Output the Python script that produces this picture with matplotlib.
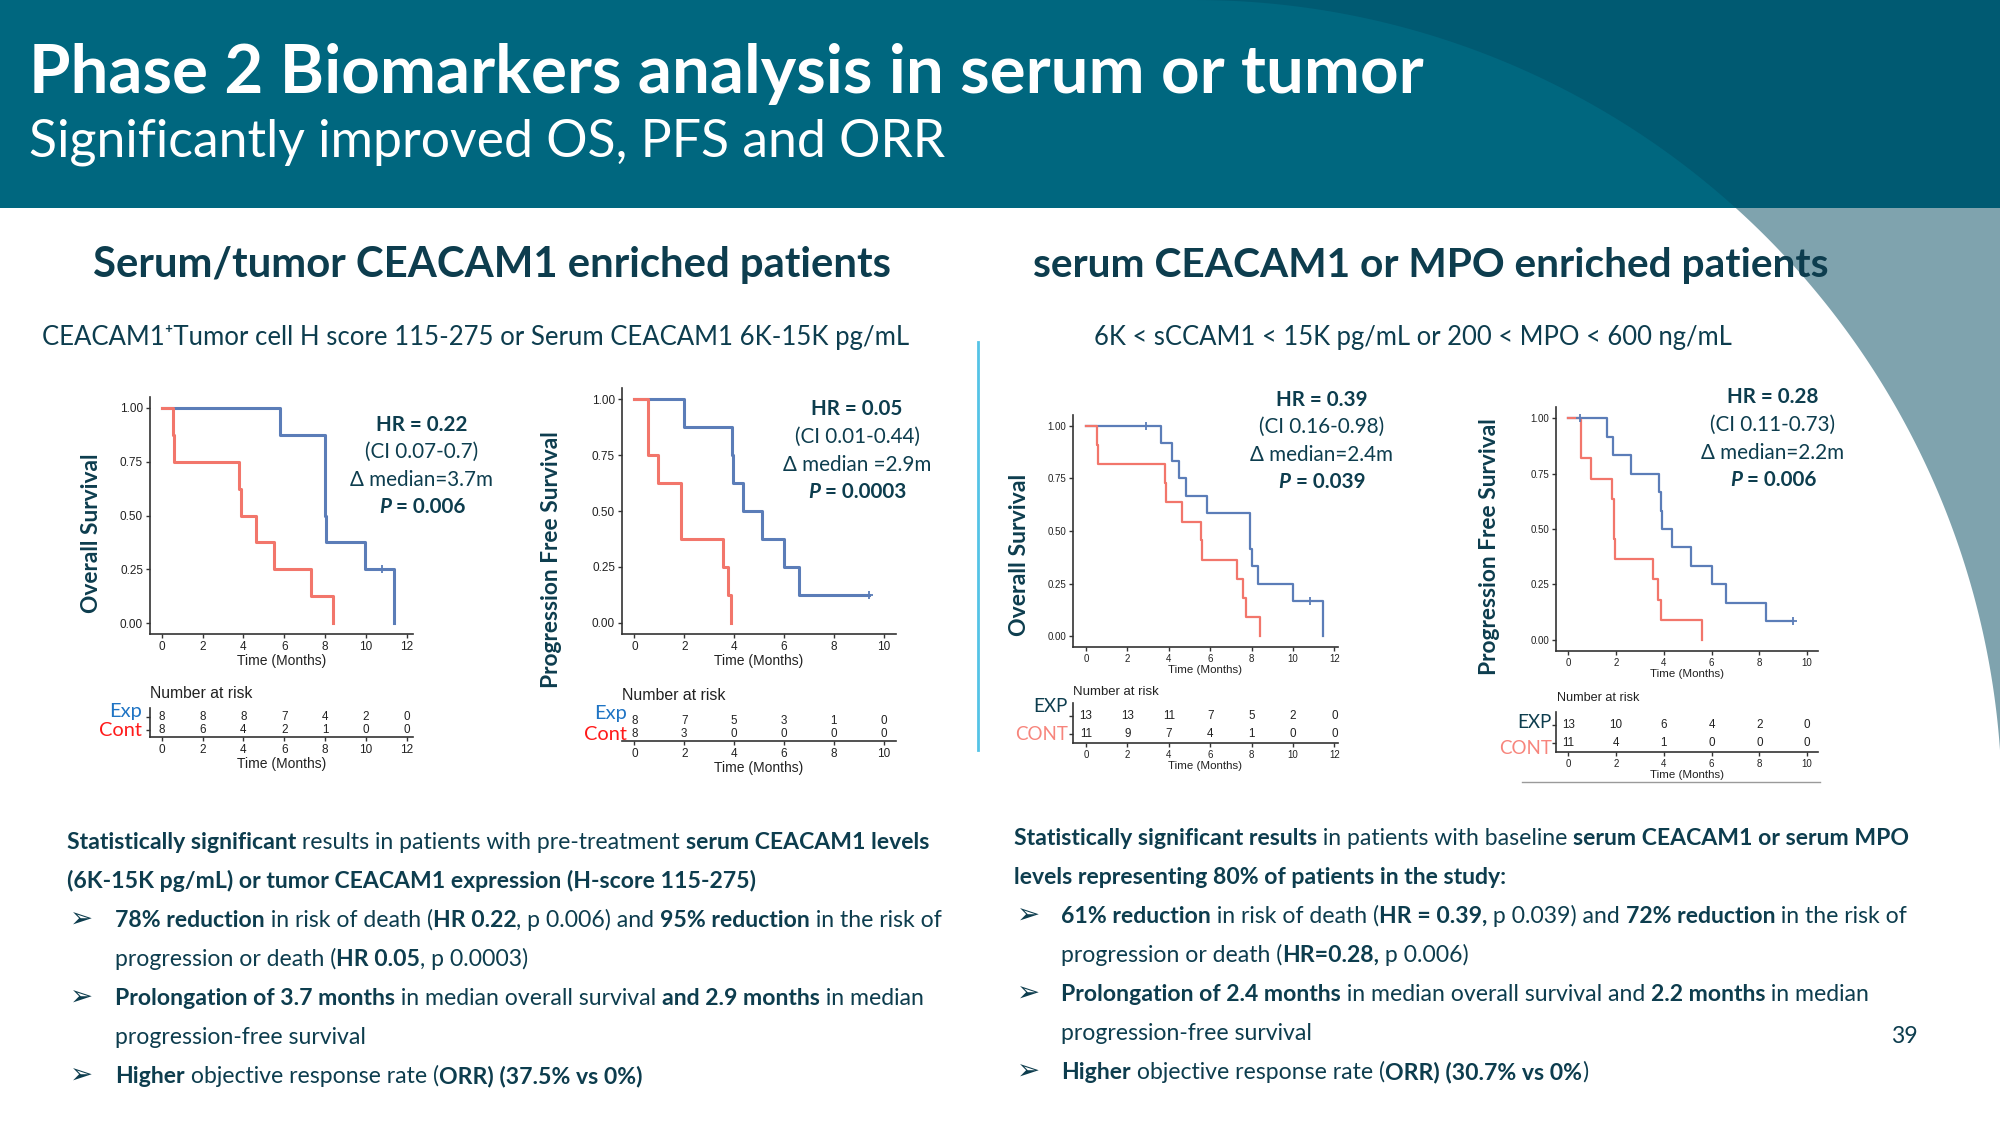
import numpy as np
import matplotlib.pyplot as plt
from matplotlib.patches import Rectangle, Polygon

# ── Kaplan-Meier curves (time in months, survival) ──────────────────────────
os1_exp_t = [0, 5.8, 7.97, 8.03, 9.96, 11.38]
os1_exp_s = [1.0, 0.875, 0.5, 0.375, 0.25, 0.0]
os1_cont_t = [0, 0.54, 0.6, 3.79, 3.87, 4.62, 5.52, 7.3, 8.4]
os1_cont_s = [1.0, 0.875, 0.75, 0.625, 0.5, 0.375, 0.25, 0.125, 0.0]
os1_cens = [10.78]

pfs1_exp_t = [0, 1.97, 3.92, 3.95, 4.34, 5.14, 6.02, 6.59, 9.4]
pfs1_exp_s = [1.0, 0.875, 0.75, 0.625, 0.5, 0.375, 0.25, 0.125, 0.125]
pfs1_cont_t = [0, 0.54, 0.56, 0.94, 1.85, 1.88, 3.57, 3.75, 3.88]
pfs1_cont_s = [1.0, 0.875, 0.75, 0.625, 0.5, 0.375, 0.25, 0.125, 0.0]
pfs1_cens = [9.4]

os2_exp_t = [0, 3.6, 4.15, 4.47, 4.83, 5.85, 7.95, 8.04, 8.33, 10.02, 11.44]
os2_exp_s = [1.0, 0.917, 0.833, 0.75, 0.667, 0.583, 0.417, 0.333, 0.25, 0.167, 0.0]
os2_cont_t = [0, 0.55, 0.58, 3.8, 3.88, 4.63, 5.57, 5.6, 7.3, 7.59, 7.72, 8.41]
os2_cont_s = [1.0, 0.909, 0.818, 0.727, 0.636, 0.545, 0.455, 0.364, 0.273, 0.182, 0.091, 0.0]
os2_cens = [2.91, 10.83]

pfs2_exp_t = [0, 1.62, 1.86, 2.64, 3.8, 3.88, 3.92, 4.33, 5.13, 6.01, 6.59, 8.3, 9.4]
pfs2_exp_s = [1.0, 0.917, 0.833, 0.75, 0.667, 0.583, 0.5, 0.417, 0.333, 0.25, 0.167, 0.083, 0.083]
pfs2_cont_t = [0, 0.52, 0.54, 0.95, 1.84, 1.89, 1.93, 1.96, 3.55, 3.76, 3.88, 5.61]
pfs2_cont_s = [1.0, 0.909, 0.818, 0.727, 0.636, 0.545, 0.455, 0.364, 0.273, 0.182, 0.091, 0.0]
pfs2_cens = [0.49, 9.4]

# ── numbers at risk ───────────────────────────────────────────────────────────
risk_t12 = [0, 2, 4, 6, 8, 10, 12]
risk_t10 = [0, 2, 4, 6, 8, 10]
os1_risk_exp = [8, 8, 8, 7, 4, 2, 0]
os1_risk_cont = [8, 6, 4, 2, 1, 0, 0]
pfs1_risk_exp = [8, 7, 5, 3, 1, 0]
pfs1_risk_cont = [8, 3, 0, 0, 0, 0]
os2_risk_exp = [13, 13, 11, 7, 5, 2, 0]
os2_risk_cont = [11, 9, 7, 4, 1, 0, 0]
pfs2_risk_exp = [13, 10, 6, 4, 2, 0]
pfs2_risk_cont = [11, 4, 1, 0, 0, 0]

# ── stats boxes ───────────────────────────────────────────────────────────────
os1_stats = ['HR = 0.22', '(CI 0.07-0.7)', 'Δ median=3.7m', '0.006']
pfs1_stats = ['HR = 0.05', '(CI 0.01-0.44)', 'Δ median =2.9m', '0.0003']
os2_stats = ['HR = 0.39', '(CI 0.16-0.98)', 'Δ median=2.4m', '0.039']
pfs2_stats = ['HR = 0.28', '(CI 0.11-0.73)', 'Δ median=2.2m', '0.006']

# ── colours / fonts ───────────────────────────────────────────────────────────
TEAL = '#00677F'
TEAL_DK = '#005A72'
GREY = '#7FA3AE'
INK = '#0D3D4E'
BLUE = '#5B7DB8'
RED = '#F2766B'
BODY = ['Lato', 'DejaVu Sans']
RFONT = ['Liberation Sans', 'DejaVu Sans']
STY = {'r': dict(fontweight='normal'), 'b': dict(fontweight='bold'),
       'bi': dict(fontweight='bold', fontstyle='italic')}

W, H = 2000, 1125
fig = plt.figure(figsize=(W / 100, H / 100), dpi=100)
bg = fig.add_axes([0, 0, 1, 1], zorder=0)
bg.set_xlim(0, W)
bg.set_ylim(H, 0)
bg.axis('off')
rend = fig.canvas.get_renderer()


def text_w(s, size, **kw):
    t = bg.text(0, 0, s + '|', fontsize=size, **kw)
    u = bg.text(0, 0, '|', fontsize=size, **kw)
    w = t.get_window_extent(rend).width - u.get_window_extent(rend).width
    t.remove()
    u.remove()
    return w


def fit(s, width, **kw):
    return 20 * width / text_w(s, 20, **kw)


def rich(x, y, parts, size, ha='left', family=BODY, color=INK, va='baseline'):
    ws = [text_w(s, size, family=family, **STY[k]) for s, k in parts]
    x0 = x - sum(ws) / 2 if ha == 'center' else x
    for (s, k), w in zip(parts, ws):
        bg.text(x0, y, s, fontsize=size, family=family, color=color, va=va, **STY[k])
        x0 += w


def px_axes(l, t, r, b):
    return fig.add_axes([l / W, 1 - b / H, (r - l) / W, (b - t) / H])


# ── background: header band and the big arc ──────────────────────────────────
cx, cy, rad = 1195, 807, 807
th_end = -np.arccos((W - cx) / rad)
th = np.linspace(-np.pi / 2, th_end, 300)
arc = np.column_stack([cx + rad * np.cos(th), cy + rad * np.sin(th)])
shape = np.vstack([arc, [[W + 50, arc[-1, 1]], [W + 50, -50], [cx, -50]]])
bg.add_patch(Polygon(shape, closed=True, fc=GREY, ec='none', zorder=0))
hdr = Rectangle((0, 0), W, 208, fc=TEAL, ec='none', zorder=1)
bg.add_patch(hdr)
dark = Polygon(shape, closed=True, fc=TEAL_DK, ec='none', zorder=2)
bg.add_patch(dark)
dark.set_clip_path(hdr)

title = 'Phase 2 Biomarkers analysis in serum or tumor'
bg.text(29, 93, title, color='white', fontweight='bold', family=BODY,
        fontsize=fit(title, 1393, family=BODY, fontweight='bold'), zorder=3)
sub = 'Significantly improved OS, PFS and ORR'
bg.text(29, 157, sub, color='white', fontweight='normal', family=BODY,
        fontsize=fit(sub, 919, family=BODY), zorder=3)

h1 = 'Serum/tumor CEACAM1 enriched patients'
h2 = 'serum CEACAM1 or MPO enriched patients'
bg.text(93, 277, h1, color=INK, fontweight='bold', family=BODY,
        fontsize=fit(h1, 799, family=BODY, fontweight='bold'))
bg.text(1033, 277, h2, color=INK, fontweight='bold', family=BODY,
        fontsize=fit(h2, 797, family=BODY, fontweight='bold'))
c1 = 'CEACAM1⁺Tumor cell H score 115-275 or Serum CEACAM1 6K-15K pg/mL'
c2 = '6K < sCCAM1 < 15K pg/mL or 200 < MPO < 600 ng/mL'
bg.text(42, 345, c1, color=INK, family=BODY, fontsize=fit(c1, 866, family=BODY))
bg.text(1094, 345, c2, color=INK, family=BODY, fontsize=fit(c2, 638, family=BODY))

bg.plot([978, 978], [342, 750], color='#55C3E6', lw=2)
bg.plot([1522, 1820], [782, 782], color='#9A9A9A', lw=1)


# ── KM panels ─────────────────────────────────────────────────────────────────
def style(ax, fs):
    for sp in ['top', 'right']:
        ax.spines[sp].set_visible(False)
    for sp in ['left', 'bottom']:
        ax.spines[sp].set_color('#333333')
        ax.spines[sp].set_linewidth(1.2)
    ax.tick_params(length=3, width=1, color='#333333', labelsize=fs,
                   labelcolor='#222222', pad=2)
    for lab in ax.get_xticklabels() + ax.get_yticklabels():
        lab.set_family(RFONT)


def panel(km_box, tbl_box, xlim, ticks, exp_t, exp_s, cont_t, cont_s, cens,
          r_exp, r_cont, fs, lw, tbl_spine):
    ax = px_axes(*km_box)
    ax.set_facecolor('none')
    ax.step(exp_t, exp_s, where='post', color=BLUE, lw=lw)
    ax.step(cont_t, cont_s, where='post', color=RED, lw=lw)
    idx = np.searchsorted(exp_t, cens, side='right') - 1
    ax.plot(cens, np.asarray(exp_s)[idx], '+', color=BLUE, ms=6, mew=1.3, ls='none')
    ax.set_xlim(*xlim)
    ax.set_ylim(-0.05, 1.05)
    ax.set_xticks(ticks)
    ax.set_yticks([0, 0.25, 0.5, 0.75, 1.0])
    ax.set_yticklabels(['0.00', '0.25', '0.50', '0.75', '1.00'])
    style(ax, fs)
    ax.set_xlabel('Time (Months)', fontsize=fs * 1.18, family=RFONT,
                  color='#222222', labelpad=1)

    tb = px_axes(*tbl_box)
    tb.set_facecolor('none')
    tb.set_xlim(*xlim)
    tb.set_ylim(0, 2.2)
    tb.set_xticks(ticks)
    tb.set_yticks([0.5, 1.5] if tbl_spine else [])
    tb.set_yticklabels([])
    style(tb, fs)
    tb.spines['left'].set_visible(tbl_spine)
    tb.set_xlabel('Time (Months)', fontsize=fs * 1.18, family=RFONT,
                  color='#222222', labelpad=1)
    for t, a, b in zip(ticks, r_exp, r_cont):
        tb.text(t, 1.5, str(a), ha='center', va='center', fontsize=8.4,
                family=RFONT, color='#222222')
        tb.text(t, 0.5, str(b), ha='center', va='center', fontsize=8.4,
                family=RFONT, color='#222222')
    return ax


panel((150, 397, 413, 634), (150, 708, 413, 737), (-0.57, 12.3), risk_t12,
      os1_exp_t, os1_exp_s, os1_cont_t, os1_cont_s, os1_cens,
      os1_risk_exp, os1_risk_cont, 8.5, 2.2, True)
panel((622, 388, 896, 634), (622, 712, 896, 741), (-0.5, 10.5), risk_t10,
      pfs1_exp_t, pfs1_exp_s, pfs1_cont_t, pfs1_cont_s, pfs1_cens,
      pfs1_risk_exp, pfs1_risk_cont, 8.5, 2.2, False)
panel((1073, 415, 1338, 647), (1073, 703, 1338, 743), (-0.63, 12.18), risk_t12,
      os2_exp_t, os2_exp_s, os2_cont_t, os2_cont_s, os2_cens,
      os2_risk_exp, os2_risk_cont, 7, 1.6, True)
panel((1556, 407, 1818, 651), (1556, 712, 1818, 752), (-0.52, 10.46), risk_t10,
      pfs2_exp_t, pfs2_exp_s, pfs2_cont_t, pfs2_cont_s, pfs2_cens,
      pfs2_risk_exp, pfs2_risk_cont, 7, 1.6, True)

# y labels
for x, y, s, ln in [(92, 533, 'Overall Survival', 160),
                    (552, 560, 'Progression Free Survival', 258),
                    (1020, 555, 'Overall Survival', 162),
                    (1490, 547, 'Progression Free Survival', 257)]:
    bg.text(x, y, s, rotation=90, ha='center', va='center', color=INK,
            fontweight='bold', family=BODY,
            fontsize=fit(s, ln, family=BODY, fontweight='bold'))

# "Number at risk" and group labels
for x, y, ln in [(150, 693, 102), (622, 695, 103), (1073, 692, 85), (1557, 698, 82)]:
    bg.text(x, y, 'Number at risk', va='center', color='#222222', family=RFONT,
            fontsize=fit('Number at risk', ln, family=RFONT))

grp_fs = fit('Cont', 43, family=BODY)
for x, ye, yc in [(142, 712, 731), (627, 714, 735)]:
    bg.text(x, ye, 'Exp', ha='right', va='center', color='#1F74C4', family=BODY, fontsize=grp_fs)
    bg.text(x, yc, 'Cont', ha='right', va='center', color='#FF1A1A', family=BODY, fontsize=grp_fs)
grp_fs2 = fit('CONT', 53, family=BODY)
for x, ye, yc in [(1068, 707, 734), (1552, 722, 748)]:
    bg.text(x, ye, 'EXP', ha='right', va='center', color=INK, family=BODY, fontsize=grp_fs2)
    bg.text(x, yc, 'CONT', ha='right', va='center', color='#F7857C', family=BODY, fontsize=grp_fs2)

# stats blocks
hr_fs = fit('(CI 0.16-0.98)', 125, family=BODY)
for x, ys, st in [(422, (425, 452, 480, 507), os1_stats),
                  (857, (409, 437, 465, 492), pfs1_stats),
                  (1322, (400, 427, 455, 482), os2_stats),
                  (1773, (397, 425, 453, 480), pfs2_stats)]:
    rich(x, ys[0], [(st[0], 'b')], hr_fs, ha='center', va='center')
    rich(x, ys[1], [(st[1], 'r')], hr_fs, ha='center', va='center')
    rich(x, ys[2], [(st[2], 'r')], hr_fs, ha='center', va='center')
    rich(x, ys[3], [('P', 'bi'), (' = ' + st[3], 'b')], hr_fs, ha='center', va='center')

# ── bullet text ───────────────────────────────────────────────────────────────
left_lines = [
    (False, [('Statistically significant', 'b'), (' results in patients with pre-treatment ', 'r'),
             ('serum CEACAM1 levels', 'b')]),
    (False, [('(6K-15K pg/mL) or tumor CEACAM1 expression (H-score 115-275)', 'b')]),
    (True, [('78% reduction', 'b'), (' in risk of death (', 'r'), ('HR 0.22', 'b'),
            (', p 0.006) and ', 'r'), ('95% reduction', 'b'), (' in the risk of', 'r')]),
    (None, [('progression or death (', 'r'), ('HR 0.05', 'b'), (', p 0.0003)', 'r')]),
    (True, [('Prolongation of 3.7 months', 'b'), (' in median overall survival ', 'r'),
            ('and 2.9 months', 'b'), (' in median', 'r')]),
    (None, [('progression-free survival', 'r')]),
    (True, [('Higher', 'b'), (' objective response rate (', 'r'), ('ORR) (37.5% vs 0%)', 'b')]),
]
right_lines = [
    (False, [('Statistically significant results', 'b'), (' in patients with baseline ', 'r'),
             ('serum CEACAM1 or serum MPO', 'b')]),
    (False, [('levels representing 80% of patients in the study:', 'b')]),
    (True, [('61% reduction', 'b'), (' in risk of death (', 'r'), ('HR = 0.39,', 'b'),
            (' p 0.039) and ', 'r'), ('72% reduction', 'b'), (' in the risk of', 'r')]),
    (None, [('progression or death (', 'r'), ('HR=0.28,', 'b'), (' p 0.006)', 'r')]),
    (True, [('Prolongation of 2.4 months', 'b'), (' in median overall survival and ', 'r'),
            ('2.2 months', 'b'), (' in median', 'r')]),
    (None, [('progression-free survival', 'r')]),
    (True, [('Higher', 'b'), (' objective response rate (', 'r'), ('ORR) (30.7% vs 0%', 'b'), (')', 'r')]),
]


def line_w(parts, size):
    return sum(text_w(s, size, family=BODY, **STY[k]) for s, k in parts)


body_fs = 20 * 862 / line_w(left_lines[0][1], 20)
for lines, x0, xb, xt, y0 in [(left_lines, 67, 70, 115, 849),
                              (right_lines, 1014, 1017, 1061, 845)]:
    for i, (bullet, parts) in enumerate(lines):
        y = y0 + i * 39
        if bullet:
            bg.text(xb, y + 1, '➢', fontsize=body_fs * 1.2, family=['DejaVu Sans'], color=INK)
        rich(x0 if bullet is False else xt, y, parts, body_fs)

bg.text(1918, 1043, '39', ha='right', fontsize=body_fs, family=BODY, color=INK)

fig.savefig('out.png', dpi=100)
